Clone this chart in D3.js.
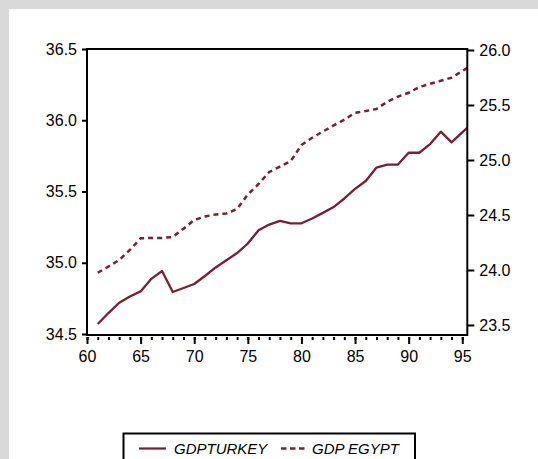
<!DOCTYPE html>
<html>
<head>
<meta charset="utf-8">
<script src="https://cdn.jsdelivr.net/npm/d3@7"></script>
<style>
  html, body { margin: 0; padding: 0; background: #d9d9d9; }
  svg { display: block; }
  text { font-family: "Liberation Sans", Arial, sans-serif; fill: #000; }
</style>
</head>
<body>
<svg id="chart" width="538" height="459"></svg>
<script>
// Annual observations (two-digit years)
const years = [61, 62, 63, 64, 65, 66, 67, 68, 69, 70, 71, 72, 73, 74, 75, 76, 77, 78,
               79, 80, 81, 82, 83, 84, 85, 86, 87, 88, 89, 90, 91, 92, 93, 94, 95, 96];

// Log GDP, Turkey (left axis)
const gdpTurkey = [34.570, 34.647, 34.719, 34.763, 34.799, 34.887, 34.942, 34.795, 34.823,
                   34.851, 34.907, 34.967, 35.018, 35.068, 35.135, 35.228, 35.268, 35.294,
                   35.277, 35.277, 35.311, 35.350, 35.391, 35.451, 35.518, 35.574, 35.668,
                   35.688, 35.689, 35.772, 35.772, 35.833, 35.920, 35.845, 35.915, 35.984];

// Log GDP, Egypt (right axis)
const gdpEgypt = [23.975, 24.032, 24.091, 24.182, 24.288, 24.291, 24.291, 24.300, 24.375,
                  24.455, 24.486, 24.505, 24.514, 24.555, 24.686, 24.782, 24.891, 24.940,
                  24.990, 25.136, 25.202, 25.259, 25.314, 25.367, 25.429, 25.445, 25.464,
                  25.529, 25.576, 25.611, 25.664, 25.693, 25.720, 25.748, 25.809, 25.867];

const xTicks = [60, 65, 70, 75, 80, 85, 90, 95];
const xMinorTicks = [60, 61, 62, 63, 64, 65, 66, 67, 68, 69, 70, 71, 72, 73, 74, 75, 76, 77,
                     78, 79, 80, 81, 82, 83, 84, 85, 86, 87, 88, 89, 90, 91, 92, 93, 94, 95];
const leftTicks = [34.5, 35.0, 35.5, 36.0, 36.5];
const rightTicks = [23.5, 24.0, 24.5, 25.0, 25.5, 26.0];
const seriesNames = ["GDPTURKEY", "GDP EGYPT"];

const lineColor = "#7a1f31";
const svg = d3.select("#chart");

// white page area
svg.append("rect").attr("x", 9).attr("y", 9).attr("width", 538 - 9).attr("height", 459 - 9)
  .attr("fill", "#fff");

const plot = { left: 87, top: 49, right: 467.3, bottom: 335 };

const x = d3.scaleLinear().domain([60, 95.47]).range([plot.left, plot.right]);
const yL = d3.scaleLinear().domain([34.5, 36.5]).range([334, 49]);
const yR = d3.scaleLinear().domain([23.5, 26.0]).range([325, 50]);

svg.append("clipPath").attr("id", "plotClip")
  .append("rect")
  .attr("x", plot.left).attr("y", plot.top)
  .attr("width", plot.right - plot.left).attr("height", plot.bottom - plot.top);

const lines = svg.append("g").attr("clip-path", "url(#plotClip)");

const turkeyLine = d3.line().x((d, i) => x(years[i])).y(d => yL(d));
const egyptLine = d3.line().x((d, i) => x(years[i])).y(d => yR(d));

lines.append("path").datum(gdpEgypt)
  .attr("d", egyptLine)
  .attr("fill", "none").attr("stroke", lineColor)
  .attr("stroke-width", 2.5).attr("stroke-dasharray", "5,4");

lines.append("path").datum(gdpTurkey)
  .attr("d", turkeyLine)
  .attr("fill", "none").attr("stroke", lineColor)
  .attr("stroke-width", 2.3).attr("stroke-linejoin", "round");

// frame
svg.append("rect")
  .attr("x", plot.left).attr("y", plot.top)
  .attr("width", plot.right - plot.left).attr("height", plot.bottom - plot.top)
  .attr("fill", "none").attr("stroke", "#000").attr("stroke-width", 2);

function styleAxis(g) {
  g.select(".domain").remove();
  g.selectAll(".tick line").attr("stroke", "#000").attr("stroke-width", 2);
  g.selectAll(".tick text").attr("font-size", 16).attr("font-family", "Liberation Sans, Arial, sans-serif");
}

// left axis
svg.append("g").attr("transform", `translate(${plot.left},0)`)
  .call(d3.axisLeft(yL).tickValues(leftTicks).tickFormat(d3.format(".1f")).tickSize(5).tickPadding(5))
  .call(styleAxis);

// right axis
svg.append("g").attr("transform", `translate(${plot.right},0)`)
  .call(d3.axisRight(yR).tickValues(rightTicks).tickFormat(d3.format(".1f")).tickSize(7).tickPadding(5))
  .call(styleAxis);

// bottom axis: minor yearly marks, then labelled majors
svg.append("g").attr("transform", `translate(0,${plot.bottom + 2})`)
  .call(d3.axisBottom(x).tickValues(xMinorTicks).tickFormat("").tickSize(3))
  .call(styleAxis);

svg.append("g").attr("transform", `translate(0,${plot.bottom + 2})`)
  .call(d3.axisBottom(x).tickValues(xTicks).tickFormat(d3.format("d")).tickSize(7).tickPadding(7))
  .call(styleAxis);

// legend
const legend = svg.append("g");
legend.append("rect")
  .attr("x", 123.5).attr("y", 433.5).attr("width", 291.5).attr("height", 40)
  .attr("fill", "#fff").attr("stroke", "#000").attr("stroke-width", 2);

legend.append("line")
  .attr("x1", 139).attr("x2", 166).attr("y1", 448.5).attr("y2", 448.5)
  .attr("stroke", lineColor).attr("stroke-width", 2.2);
legend.append("text").attr("x", 174).attr("y", 453.5)
  .attr("font-size", 15).attr("font-style", "italic").text(seriesNames[0]);

legend.append("line")
  .attr("x1", 281).attr("x2", 306).attr("y1", 448.5).attr("y2", 448.5)
  .attr("stroke", lineColor).attr("stroke-width", 2.5).attr("stroke-dasharray", "5.5,3.5");
legend.append("text").attr("x", 312).attr("y", 453.5)
  .attr("font-size", 15).attr("font-style", "italic").text(seriesNames[1]);
</script>
</body>
</html>
